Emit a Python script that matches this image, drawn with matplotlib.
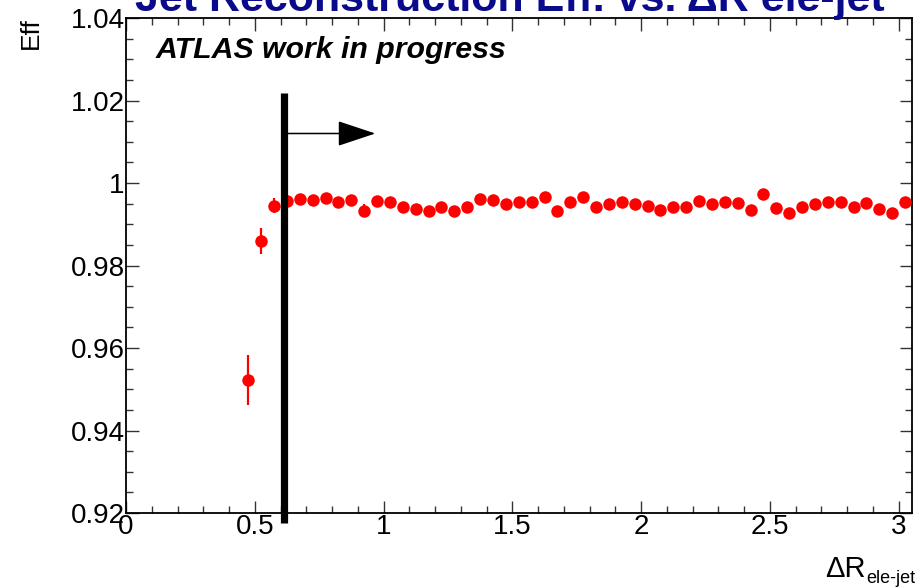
import numpy as np
import matplotlib
matplotlib.use("Agg")
import matplotlib.pyplot as plt
from matplotlib.ticker import MultipleLocator

plt.rcParams['font.family'] = ['Liberation Sans', 'DejaVu Sans']

# efficiency per dR bin (bin width 0.05, first filled bin starts at 0.45)
bin_start = 0.45
bin_width = 0.05
eff = [0.9523, 0.9859, 0.9945, 0.9957, 0.9961, 0.9959, 0.9963, 0.9953,
       0.9959, 0.9933, 0.9956, 0.9953, 0.9941, 0.9938, 0.9931, 0.9941,
       0.9933, 0.9941, 0.9961, 0.9959, 0.9948, 0.9953, 0.9953, 0.9966,
       0.9931, 0.9954, 0.9965, 0.9941, 0.9949, 0.9953, 0.9948, 0.9945,
       0.9935, 0.9942, 0.9942, 0.9957, 0.9949, 0.9954, 0.9951, 0.9934,
       0.9973, 0.9940, 0.9927, 0.9941, 0.9948, 0.9953, 0.9953, 0.9942,
       0.9952, 0.9937, 0.9928, 0.9954]
err = [0.0061, 0.0031, 0.0018, 0.0012, 0.0012, 0.0012, 0.0012, 0.0012,
       0.0012, 0.0016] + [0.0012] * 42

yticks = [0.92, 0.94, 0.96, 0.98, 1.0, 1.02, 1.04]
ytick_labels = ['0.92', '0.94', '0.96', '0.98', '1', '1.02', '1.04']
xticks = [0, 0.5, 1, 1.5, 2, 2.5, 3]
xtick_labels = ['0', '0.5', '1', '1.5', '2', '2.5', '3']

dr_cut = 0.614
arrow_end = 0.968
arrow_y = 1.012

centers = bin_start + bin_width / 2 + bin_width * np.arange(len(eff))

fig = plt.figure(figsize=(9.23, 5.88), dpi=100)
ax = fig.add_axes([126 / 923, 75 / 588, (911.5 - 126) / 923, (513 - 18) / 588])

ax.errorbar(centers, eff, yerr=err, fmt='o', color='red', ms=9, mew=0,
            elinewidth=1.6, capsize=0, zorder=3)

# cut line with arrow pointing to the accepted region
ax.plot([dr_cut, dr_cut], [0.9176, 1.0217], color='black', lw=5.2,
        solid_capstyle='butt', clip_on=False, zorder=4)
ax.annotate('', xy=(arrow_end, arrow_y), xytext=(dr_cut, arrow_y),
            arrowprops=dict(arrowstyle='-|>,head_length=1.2,head_width=0.4',
                            mutation_scale=20, lw=1.1, color='black',
                            shrinkA=0, shrinkB=0))

ax.set_xlim(0, 3.05)
ax.set_ylim(0.92, 1.04)
ax.set_xticks(xticks)
ax.set_xticklabels(xtick_labels)
ax.set_yticks(yticks)
ax.set_yticklabels(ytick_labels)
ax.xaxis.set_minor_locator(MultipleLocator(0.1))
ax.yaxis.set_minor_locator(MultipleLocator(0.005))
ax.tick_params(which='both', direction='in', top=True, right=True,
               labelsize=20, color='#333333')
ax.tick_params(which='major', length=9, width=1)
ax.tick_params(which='minor', length=5, width=1)
ax.tick_params(axis='x', pad=1)
ax.tick_params(axis='y', pad=1)
for s in ax.spines.values():
    s.set_linewidth(1.3)

ax.text(0.038, 0.935, 'ATLAS work in progress', transform=ax.transAxes,
        fontsize=21.8, fontweight='bold', fontstyle='italic', va='center')

fig.text(31 / 923, 1 - 17 / 588, 'Eff', rotation=90, fontsize=19,
         ha='center', va='top')
fig.text(866 / 923, 1 - 577 / 588, '\u0394R', fontsize=21, ha='right',
         va='baseline')
fig.text(866 / 923, 1 - 583 / 588, 'ele-jet', fontsize=13, ha='left',
         va='baseline')

fig.text(510 / 923, 1 - 11 / 588, 'Jet Reconstruction Eff. vs. \u0394R ele-jet',
         fontsize=31, fontweight='bold', color='#0a0a8c', ha='center',
         va='baseline')

fig.savefig('out.png', dpi=100)
